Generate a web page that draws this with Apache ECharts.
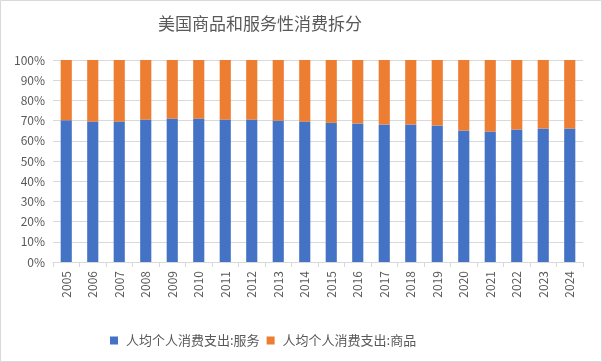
<!DOCTYPE html>
<html><head><meta charset="utf-8">
<script src="https://cdn.jsdelivr.net/npm/echarts@6/dist/echarts.min.js"></script>
<style>html,body{margin:0;padding:0;background:#fff}#c{width:602px;height:362px}</style>
</head><body><div id="c"></div>
<script>
const years = ['2005','2006','2007','2008','2009','2010','2011','2012','2013','2014','2015','2016','2017','2018','2019','2020','2021','2022','2023','2024'];
const servicesShare = [70.2,69.5,69.5,70.5,71.0,71.0,70.5,70.5,70.0,69.5,68.9,68.6,68.1,68.1,67.6,65.1,64.6,65.6,66.1,66.1];
const goodsShare = [29.8,30.5,30.5,29.5,29.0,29.0,29.5,29.5,30.0,30.5,31.1,31.4,31.9,31.9,32.4,34.9,35.4,34.4,33.9,33.9];
const yTicks = [0,10,20,30,40,50,60,70,80,90,100];
const seriesNames = ['人均个人消费支出:服务','人均个人消费支出:商品'];
const titleText = '美国商品和服务性消费拆分';

const font = '"Microsoft YaHei","Noto Sans CJK SC",sans-serif';
const chart = echarts.init(document.getElementById('c'), null, {renderer:'canvas'});
chart.setOption({
  animation:false,
  backgroundColor:'#fff',
  graphic:[{type:'rect',shape:{x:0.5,y:0.5,width:601,height:361},style:{fill:'none',stroke:'#d9d9d9',lineWidth:1},silent:true}],
  title:{text:titleText,left:153,top:10,textStyle:{fontSize:17,fontWeight:'normal',color:'#595959',fontFamily:font}},
  legend:{left:105,top:329,itemWidth:8,itemHeight:8,itemGap:7,icon:'rect',
    textStyle:{fontSize:13,color:'#595959',fontFamily:font,padding:[0,0,0,3]},data:seriesNames},
  grid:{left:53,right:19,top:60,bottom:100},
  xAxis:{type:'category',data:years,
    axisLine:{lineStyle:{color:'#d9d9d9'}},
    axisTick:{show:true,alignWithLabel:false,length:5,lineStyle:{color:'#d9d9d9'}},
    axisLabel:{rotate:90,color:'#595959',fontSize:12,fontFamily:font,margin:9}},
  yAxis:{type:'value',min:0,max:100,interval:10,
    axisLine:{show:false},axisTick:{show:false},
    splitLine:{lineStyle:{color:'#d9d9d9'}},
    axisLabel:{color:'#595959',fontSize:12,fontFamily:font,margin:8,
      formatter:v=>yTicks.includes(v)?v+'%':''}},
  series:[
    {name:seriesNames[0],type:'bar',stack:'s',data:servicesShare,barWidth:'42%',itemStyle:{color:'#4472C4'}},
    {name:seriesNames[1],type:'bar',stack:'s',data:goodsShare,barWidth:'42%',itemStyle:{color:'#ED7D31'}}
  ]
});
</script></body></html>
